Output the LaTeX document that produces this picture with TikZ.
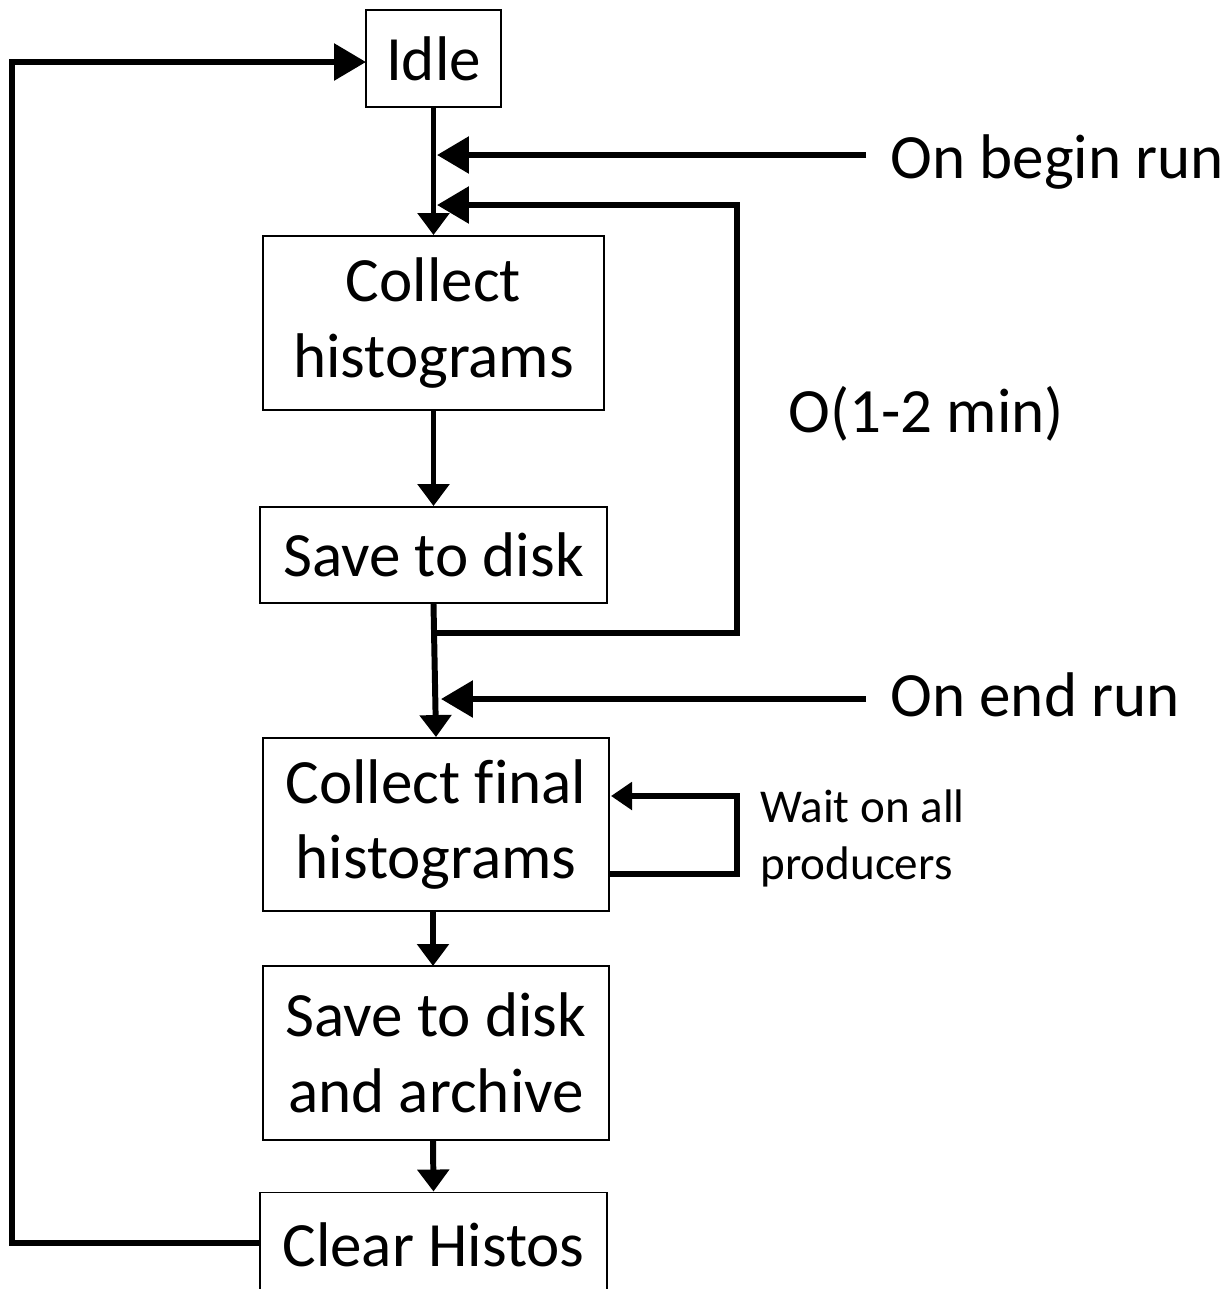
\documentclass[tikz,border=0pt]{standalone}
\usepackage{fontspec}
\setmainfont[Ligatures=NoCommon]{Carlito}
\usetikzlibrary{arrows.meta}
\newcommand\bigfnt{\fontsize{35.9pt}{43.2pt}\selectfont}
\newcommand\smallfnt{\fontsize{26.8pt}{32.4pt}\selectfont}
\begin{document}
\begin{tikzpicture}[x=0.02cm,y=-0.02cm,
  box/.style={draw,line width=1.1pt,inner sep=0pt,align=center,font=\bigfnt},
  lbl/.style={inner sep=0pt,font=\bigfnt,anchor=base west},
  thick line/.style={line width=3.4pt},
  hflow/.style={thick line,-{Triangle[length=0.64cm,width=0.72cm]}},
  vflow/.style={thick line,-{Triangle[length=0.44cm,width=0.62cm]}},
  wflow/.style={thick line,-{Triangle[length=0.42cm,width=0.54cm]}}]
\useasboundingbox (0,0) rectangle (1231,1289);
\clip (0,0) rectangle (1231,1289);
% boxes
\node[box,minimum width=2.7cm,minimum height=1.94cm] (idle) at (433.5,58.5) {Idle};
\node[box,minimum width=6.82cm,minimum height=3.48cm] (coll) at (433.5,323) {Collect\\histograms};
\node[box,minimum width=6.94cm,minimum height=1.92cm] (save) at (433.5,555) {Save to disk};
\node[box,minimum width=6.92cm,minimum height=3.46cm] (final) at (436,824.5) {Collect f\kern0pt inal\\histograms};
\node[box,minimum width=6.92cm,minimum height=3.48cm] (arch) at (436,1053) {Save to disk\\and archive};
\node[box,minimum width=6.94cm,minimum height=2.1cm,text depth=0pt] (clear) at (433.5,1245) {Clear Histos};
% labels
\node[lbl] (begin) at (890,178) {On begin run};
\node[lbl] (endrun) at (890,716) {On end run};
\node[lbl] (omin) at (788,432) {O(1-2 min)};
\node[inner sep=0pt,font=\smallfnt,align=left,anchor=west] (wait) at (760,838) {Wait on all\\producers};
% coordinates
\coordinate (b1) at (866,155);
\coordinate (b2) at (437,155);
\coordinate (f0) at (437,633);
\coordinate (f1) at (737,633);
\coordinate (f2) at (737,205);
\coordinate (f3) at (437,205);
\coordinate (e1) at (866,699);
\coordinate (e2) at (441,699);
\coordinate (w0) at (609,874);
\coordinate (w1) at (737,874);
\coordinate (w2) at (737,796);
\coordinate (w3) at (611,796);
\coordinate (l0) at (260,1243);
\coordinate (l1) at (12,1243);
\coordinate (l2) at (12,62);
\coordinate (l3) at (366,62);
% connectors
\draw[vflow] (idle.south) -- (coll.north);
\draw[hflow] (b1) -- (b2);
\draw[hflow] (f0) -- (f1) -- (f2) -- (f3);
\draw[vflow] (coll.south) -- (save.north);
\draw[vflow] (save.south) -- (final.north);
\draw[hflow] (e1) -- (e2);
\draw[wflow] (w0) -- (w1) -- (w2) -- (w3);
\draw[vflow] (433,911) -- (433,966);
\draw[vflow] (433,1140) -- (clear.north);
\draw[hflow] (l0) -- (l1) -- (l2) -- (l3);
\end{tikzpicture}
\end{document}
